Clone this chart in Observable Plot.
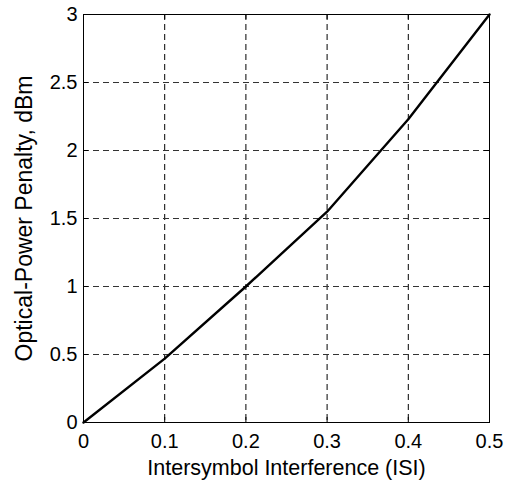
<!DOCTYPE html>
<html><head><meta charset="utf-8">
<script src="https://cdn.jsdelivr.net/npm/d3@7"></script>
<script src="https://cdn.jsdelivr.net/npm/@observablehq/plot@0.6"></script>
<style>body{margin:0;background:#fff}</style>
</head><body><div id="chart"></div>
<script>
const isi = [0, 0.1, 0.2, 0.3, 0.4, 0.5];
const penalty = [0, 0.47, 1.0, 1.55, 2.23, 3.0];
const xTicks = [0, 0.1, 0.2, 0.3, 0.4, 0.5];
const yTicks = [0, 0.5, 1, 1.5, 2, 2.5, 3];
const xLabel = "Intersymbol Interference (ISI)";
const yLabel = "Optical-Power Penalty, dBm";

const data = isi.map((x, i) => ({x, y: penalty[i]}));
const W = 519, H = 484, mL = 83, mR = 30, mT = 14, mB = 62;
const fw = W - mL - mR, fh = H - mT - mB, tk = 5;
const fmt = d => String(d);

const chart = Plot.plot({
  width: W, height: H,
  marginLeft: mL, marginRight: mR, marginTop: mT, marginBottom: mB,
  style: {fontFamily: "Arial, 'Liberation Sans', sans-serif", fontSize: "20px", color: "#000", background: "#fff"},
  x: {domain: [0, 0.5]},
  y: {domain: [0, 3]},
  marks: [
    Plot.gridX(xTicks, {stroke: "#000", strokeOpacity: 1, strokeDasharray: "6,4"}),
    Plot.gridY(yTicks, {stroke: "#333", strokeOpacity: 1, strokeDasharray: "6,4"}),
    Plot.ruleX(xTicks, {stroke: "#000", insetTop: fh - tk}),
    Plot.ruleX(xTicks, {stroke: "#000", insetBottom: fh - tk}),
    Plot.ruleY(yTicks, {stroke: "#000", insetRight: fw - tk}),
    Plot.ruleY(yTicks, {stroke: "#000", insetLeft: fw - tk}),
    Plot.axisX(xTicks, {tickSize: 0, tickPadding: 11, label: null, fontSize: 20, tickFormat: fmt}),
    Plot.axisY(yTicks, {tickSize: 0, tickPadding: 6, label: null, fontSize: 20, tickFormat: fmt}),
    Plot.frame({stroke: "#000"}),
    Plot.line(data, {x: "x", y: "y", stroke: "#000", strokeWidth: 2.4}),
    Plot.text([xLabel], {text: d => d, frameAnchor: "bottom", dy: 46, fontSize: 21.5, lineAnchor: "middle", textAnchor: "middle"}),
    Plot.text([yLabel], {text: d => d, frameAnchor: "left", dx: -59, rotate: -90, fontSize: 23, lineAnchor: "middle", textAnchor: "middle"})
  ]
});
document.getElementById("chart").append(chart);
</script>
</body></html>
